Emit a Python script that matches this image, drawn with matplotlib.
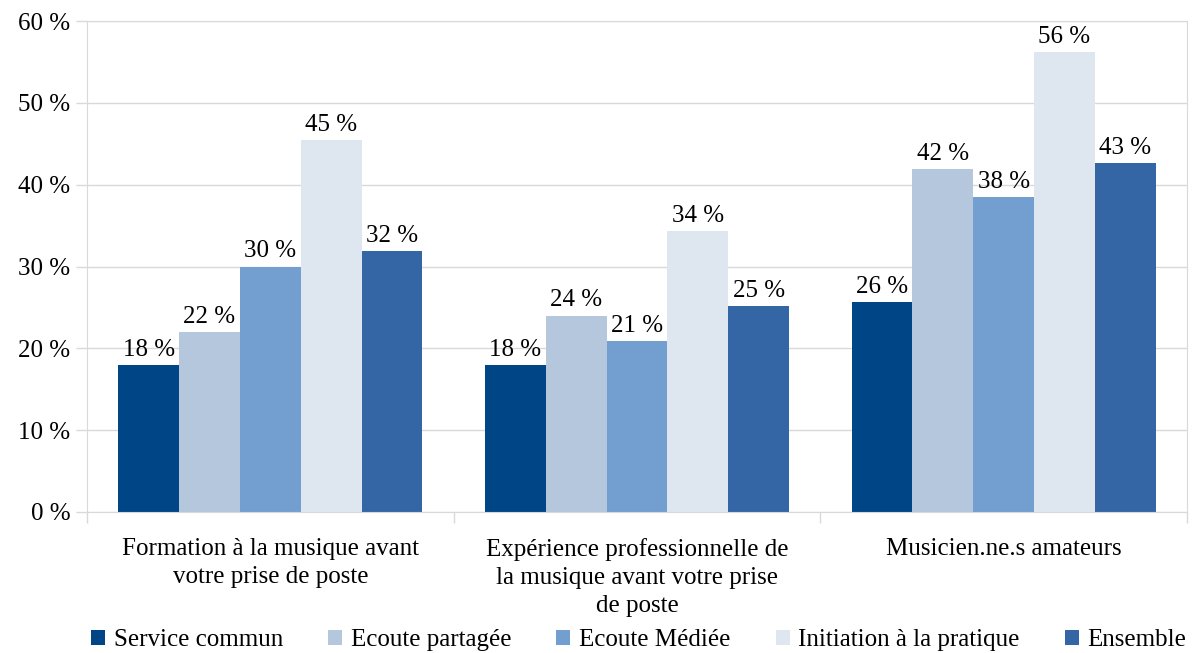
import numpy as np
import matplotlib.pyplot as plt
from matplotlib.patches import Patch

plt.rcParams['font.family'] = ['Liberation Serif', 'DejaVu Serif']

categories = ["Formation à la musique avant\nvotre prise de poste",
              "Expérience professionnelle de\nla musique avant votre prise\nde poste",
              "Musicien.ne.s amateurs"]
series = ["Service commun", "Ecoute partagée", "Ecoute Médiée",
          "Initiation à la pratique", "Ensemble"]
service_commun = [18.0, 18.0, 25.7]
ecoute_partagee = [22.0, 24.0, 41.9]
ecoute_mediee = [30.0, 20.9, 38.5]
initiation = [45.4, 34.3, 56.2]
ensemble = [31.9, 25.2, 42.6]
values = [service_commun, ecoute_partagee, ecoute_mediee, initiation, ensemble]
colors = ['#004586', '#b4c7dc', '#729fcf', '#dee6ef', '#3465a4']

grid_c = '#d9d9d9'
fs = 18

fig = plt.figure(figsize=(11.94, 6.53), dpi=100)
ax = fig.add_axes([87 / 1194, 1 - 512 / 653, 1100 / 1194, 491 / 653])

n = len(series)
bw = 0.83 / n
x = np.arange(len(categories))
for i, (name, vals, c) in enumerate(zip(series, values, colors)):
    pos = x - 0.415 + bw * (i + 0.5)
    bars = ax.bar(pos, vals, width=bw, color=c, label=name, zorder=2)
    for b, v in zip(bars, vals):
        ax.annotate(f"{v:.0f} %", (b.get_x() + b.get_width() / 2, v),
                    xytext=(0, 3), textcoords='offset points',
                    ha='center', va='bottom', fontsize=fs)

ax.set_xlim(-0.5, len(categories) - 0.5)
ax.set_ylim(0, 60)
ax.set_yticks(np.arange(0, 61, 10))
ax.set_yticklabels([f"{t} %" for t in range(0, 61, 10)], fontsize=fs)
ax.yaxis.grid(True, color=grid_c, linewidth=1, zorder=0)
ax.set_axisbelow(True)

ax.set_xticks(x)
ax.set_xticklabels(categories, fontsize=fs, linespacing=1.35)
ax.tick_params(axis='x', length=0, pad=19)
ax.set_xticks(np.arange(-0.5, len(categories)), minor=True)
ax.tick_params(axis='x', which='minor', length=8, color=grid_c, width=1)
ax.tick_params(axis='y', length=8, color=grid_c, width=1, pad=4)
for s in ax.spines.values():
    s.set_color(grid_c)

handles = [Patch(facecolor=c, label=s) for s, c in zip(series, colors)]
fig.legend(handles=handles, loc='lower center', bbox_to_anchor=(0.535, -0.032),
           ncol=5, frameon=False, fontsize=fs, handlelength=0.56,
           handleheight=0.56, handletextpad=0.35, columnspacing=1.8)

fig.savefig('out.png', dpi=100)
